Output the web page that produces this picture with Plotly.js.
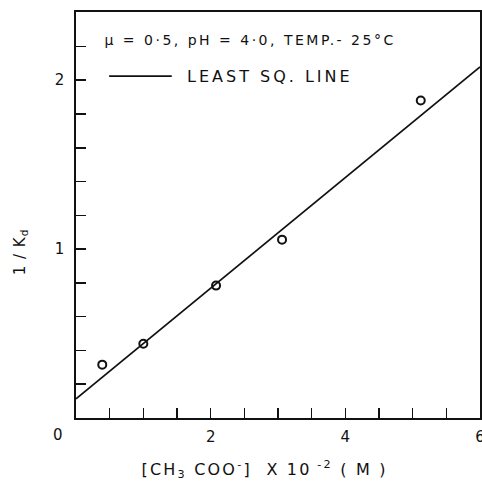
<!DOCTYPE html>
<html>
<head>
<meta charset="utf-8">
<script src="https://cdn.plot.ly/plotly-3.0.1.min.js"></script>
<style>
html,body{margin:0;padding:0;background:#fff;}
#chart{width:482px;height:483px;}
#chart g.annotation[data-index="0"] text{letter-spacing:2.5px;}
#chart g.annotation[data-index="1"] text{letter-spacing:3px;}
#chart g.annotation[data-index="3"] text{letter-spacing:1px;}
#chart g.annotation[data-index="4"] text{letter-spacing:2.2px;}
</style>
</head>
<body>
<div id="chart"></div>
<script>
// Measured points: acetate concentration (x10^-2 M) vs 1/Kd
const acetateConc = [0.39, 1.0, 2.08, 3.06, 5.12];
const invKd = [0.316, 0.44, 0.784, 1.056, 1.88];
// Least squares line end points (as drawn)
const lineX = [0, 6];
const lineY = [0.114, 2.079];
// Tick values and labels
const xTickVals = [0, 0.5, 1, 1.5, 2, 2.5, 3, 3.5, 4, 4.5, 5, 5.5, 6];
const xTickText = ["", "", "", "", "2", "", "", "", "4", "", "", "", "6"];
const yTickVals = [0, 0.2, 0.4, 0.6, 0.8, 1.0, 1.2, 1.4, 1.6, 1.8, 2.0, 2.2, 2.4];
const yTickText = ["", "", "", "", "", "1", "", "", "", "", "2", "", ""];

const ink = '#111';
const font = 'DejaVu Sans, sans-serif';

const traces = [
  {x: lineX, y: lineY, mode: 'lines', line: {color: ink, width: 1.7}, hoverinfo: 'skip', showlegend: false},
  {x: acetateConc, y: invKd, mode: 'markers',
   marker: {symbol: 'circle-open', size: 8, color: ink, line: {width: 2, color: ink}}, showlegend: false}
];

const layout = {
  width: 482, height: 483,
  margin: {l: 76, r: 2, t: 12, b: 65},
  paper_bgcolor: '#fff', plot_bgcolor: '#fff',
  font: {family: font, color: ink, size: 14},
  xaxis: {
    range: [0, 6], showgrid: false, zeroline: false,
    showline: true, mirror: true, linecolor: ink, linewidth: 1.8,
    ticks: 'inside', ticklen: 10, tickwidth: 1.6, tickcolor: ink,
    tickvals: xTickVals, ticktext: xTickText, ticklabelstandoff: 4,
    ticklabeloverflow: 'allow',
    tickfont: {family: font, size: 15, color: ink}
  },
  yaxis: {
    range: [0, 2.404], showgrid: false, zeroline: false,
    showline: true, mirror: true, linecolor: ink, linewidth: 1.8,
    ticks: 'inside', ticklen: 10, tickwidth: 1.6, tickcolor: ink,
    tickvals: yTickVals, ticktext: yTickText, ticklabelstandoff: 7,
    tickfont: {family: font, size: 15, color: ink}
  },
  shapes: [
    {type: 'line', xref: 'paper', yref: 'paper', x0: 0.082, x1: 0.237, y0: 0.842, y1: 0.842,
     line: {color: ink, width: 1.8}}
  ],
  annotations: [
    {xref: 'paper', yref: 'paper', x: 0.431, y: 0.93, xanchor: 'center', yanchor: 'middle', showarrow: false,
     text: 'μ = 0·5, pH = 4·0, TEMP.- 25°C', font: {family: font, size: 14, color: ink}},
    {xref: 'paper', yref: 'paper', x: 0.481, y: 0.842, xanchor: 'center', yanchor: 'middle', showarrow: false,
     text: 'LEAST SQ. LINE', font: {family: font, size: 16, color: ink}},
    {xref: 'paper', yref: 'paper', x: 0, y: 0, xanchor: 'center', yanchor: 'top', xshift: -18, yshift: -6, showarrow: false,
     text: '0', font: {family: font, size: 15, color: ink}},
    {xref: 'paper', yref: 'paper', x: 0, y: 0.408, xanchor: 'center', yanchor: 'middle', xshift: -56, showarrow: false,
     textangle: -90, text: '1 / K<sub>d</sub>', font: {family: font, size: 15, color: ink}},
    {xref: 'paper', yref: 'paper', x: 0.467, y: -0.128, xanchor: 'center', yanchor: 'middle', showarrow: false,
     text: '[CH<sub>3</sub> COO<sup>-</sup>]  X 10<sup> -2</sup> ( M )', font: {family: font, size: 16, color: ink}}
  ]
};

Plotly.newPlot('chart', traces, layout, {displayModeBar: false, staticPlot: true});
</script>
</body>
</html>
